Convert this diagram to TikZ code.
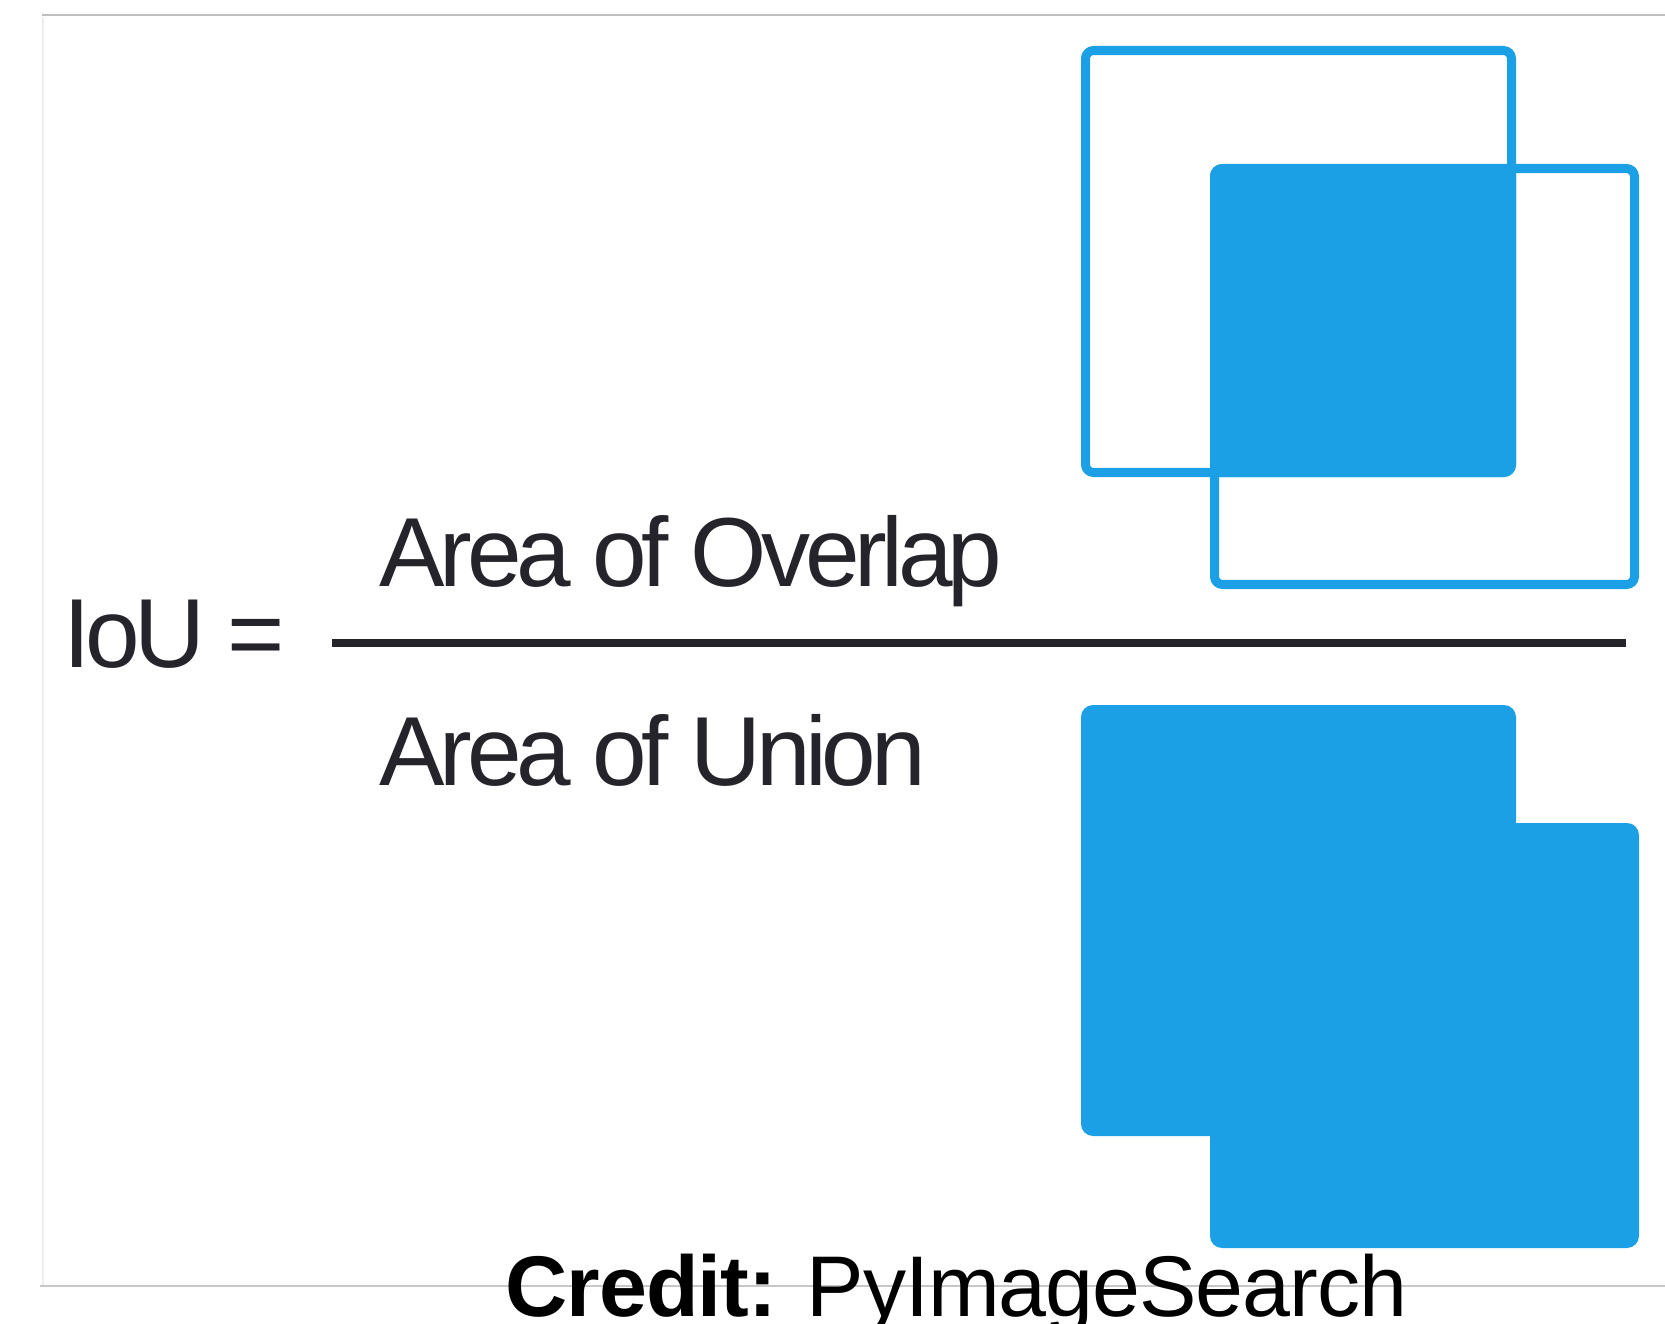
\documentclass[tikz,border=0pt]{standalone}
\usepackage{fontspec}
\setmainfont{Liberation Sans}
\newfontfamily\fracfont[LetterSpace=-5.5]{Liberation Sans}
\newfontfamily\creditfont[LetterSpace=-1.2]{Liberation Sans}
\definecolor{iou blue}{RGB}{27,160,230}
\definecolor{ink}{RGB}{36,36,42}

\begin{document}
\begin{tikzpicture}[x=0.01cm, y=-0.01cm,
                    every node/.style={inner sep=0pt, anchor=base west},
                    formula/.style={font=\fracfont\fontsize{27.9pt}{30pt}\selectfont, text=ink},
                    box line/.style={draw=iou blue, line width=0.09cm, rounded corners=0.08cm},
                    box fill/.style={fill=iou blue, rounded corners=0.12cm},
                    frame/.style={line width=0.02cm}]
  \useasboundingbox (0,0) rectangle (1665,1324);

  % Frame round the page
  \draw[frame, black!25] (42,15) -- (1665,15);
  \draw[frame, black!7] (43,17) -- (43,1286);
  \draw[frame, black!22] (40,1286) -- (1665,1286);

  % Outer corners of the two boxes, for the top pair and the bottom pair
  \foreach \set/\dy in {top/0, bottom/659} {
    \coordinate (\set-a-nw) at (1081, 46+\dy);
    \coordinate (\set-a-se) at (1516, 477+\dy);
    \coordinate (\set-b-nw) at (1210, 164+\dy);
    \coordinate (\set-b-se) at (1639, 589+\dy);
  }

  % Top pair: only the overlap is filled
  \begin{scope}
    \clip[rounded corners=0.12cm] (top-a-nw) rectangle (top-a-se);
    \fill[box fill] (top-b-nw) rectangle (top-b-se);
  \end{scope}
  \draw[box line] ([shift={(4.5,4.5)}]top-a-nw) rectangle ([shift={(-4.5,-4.5)}]top-a-se);
  \draw[box line] ([shift={(4.5,4.5)}]top-b-nw) rectangle ([shift={(-4.5,-4.5)}]top-b-se);

  % Bottom pair: the whole union is filled
  \fill[box fill] (bottom-a-nw) rectangle (bottom-a-se);
  \fill[box fill] (bottom-b-nw) rectangle (bottom-b-se);

  % The formula
  \node[formula] (iou) at (63,667) {IoU =};
  \node[formula] (overlap) at (379,586) {Area of Overlap};
  \node[formula] (union) at (379,785) {Area of Union};
  \coordinate (bar start) at (332,643);
  \coordinate (bar end) at (1626,643);
  \draw[ink, line width=0.07cm] (bar start) -- (bar end);

  \node[font=\creditfont\fontsize{24.5pt}{28pt}\selectfont] (credit) at (505,1316)
    {\textbf{Credit:} PyImageSearch};
\end{tikzpicture}
\end{document}
